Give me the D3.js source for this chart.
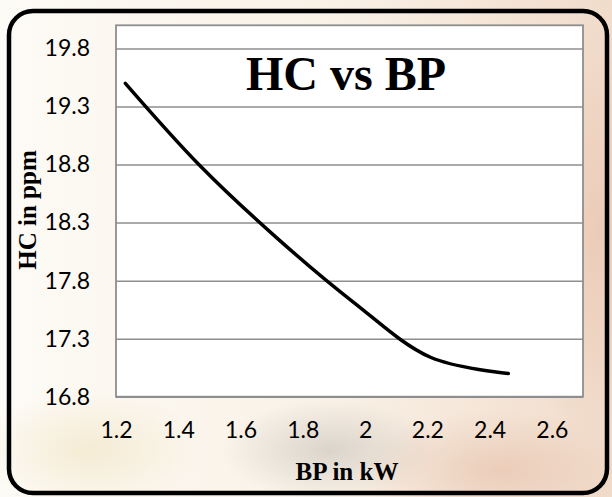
<!DOCTYPE html>
<html>
<head>
	<meta charset="utf-8">
	<script src="https://d3js.org/d3.v7.min.js"></script>
	<style>
		body { margin: 0; background: #fff; }
		svg { display: block; }
	</style>
</head>
<body>
	<svg width="612" height="497"></svg>
	<script>
		// data
		let bp = [1.23, 1.47, 1.72, 1.96, 2.21, 2.46];
		let hc = [19.50, 18.79, 18.16, 17.62, 17.14, 17.00];
		let xTicks = [1.2, 1.4, 1.6, 1.8, 2.0, 2.2, 2.4, 2.6];
		let yTicks = [16.8, 17.3, 17.8, 18.3, 18.8, 19.3, 19.8];

		let data = [];
		for (let i = 0; i < bp.length; i++) {
			data.push({ "bp": bp[i], "hc": hc[i] });
		}

		const svg = d3.select("svg");
		const W = 612, H = 497;
		const plot = { left: 116, right: 583, top: 25.3, bottom: 396.7 };

		// faded background picture (approximation)
		const defs = svg.append("defs");
		const lg = defs.append("linearGradient").attr("id", "bgLin")
			.attr("x1", 0).attr("y1", 0).attr("x2", 1).attr("y2", 0);
		lg.append("stop").attr("offset", "0%").attr("stop-color", "#fdfbf6");
		lg.append("stop").attr("offset", "55%").attr("stop-color", "#f9f1e6");
		lg.append("stop").attr("offset", "100%").attr("stop-color", "#f1dccb");
		const rg = defs.append("radialGradient").attr("id", "peach");
		rg.append("stop").attr("offset", "0%").attr("stop-color", "#e9c7b2").attr("stop-opacity", 0.8);
		rg.append("stop").attr("offset", "100%").attr("stop-color", "#e9c7b2").attr("stop-opacity", 0);
		const rg2 = defs.append("radialGradient").attr("id", "greyb");
		rg2.append("stop").attr("offset", "0%").attr("stop-color", "#cfc8c0").attr("stop-opacity", 0.7);
		rg2.append("stop").attr("offset", "100%").attr("stop-color", "#cfc8c0").attr("stop-opacity", 0);
		const rg3 = defs.append("radialGradient").attr("id", "cream");
		rg3.append("stop").attr("offset", "0%").attr("stop-color", "#f4ead0").attr("stop-opacity", 0.9);
		rg3.append("stop").attr("offset", "100%").attr("stop-color", "#f4ead0").attr("stop-opacity", 0);

		svg.append("rect").attr("width", W).attr("height", H).attr("fill", "url(#bgLin)");
		svg.append("ellipse").attr("cx", 600).attr("cy", 230).attr("rx", 90).attr("ry", 220).attr("fill", "url(#peach)");
		svg.append("ellipse").attr("cx", 500).attr("cy", 470).attr("rx", 140).attr("ry", 60).attr("fill", "url(#peach)");
		svg.append("ellipse").attr("cx", 330).attr("cy", 450).attr("rx", 110).attr("ry", 50).attr("fill", "url(#greyb)");
		svg.append("ellipse").attr("cx", 90).attr("cy", 450).attr("rx", 110).attr("ry", 60).attr("fill", "url(#cream)");

		// rounded frame
		svg.append("rect")
			.attr("x", 9).attr("y", 11)
			.attr("width", 598).attr("height", 482)
			.attr("rx", 24).attr("ry", 24)
			.attr("fill", "none")
			.attr("stroke", "#000")
			.attr("stroke-width", 4.5);

		const x = d3.scaleLinear().domain([1.2, 2.7]).range([plot.left, plot.right]);
		const y = d3.scaleLinear().domain([16.8, 20.0]).range([plot.bottom, plot.top]);

		// plot area
		svg.append("rect")
			.attr("x", plot.left).attr("y", plot.top)
			.attr("width", plot.right - plot.left).attr("height", plot.bottom - plot.top)
			.attr("fill", "#fff");

		// gridlines + y labels
		const yAxis = svg.append("g")
			.attr("transform", `translate(${plot.left},0)`)
			.call(d3.axisLeft(y).tickValues(yTicks).tickSize(-(plot.right - plot.left)).tickPadding(26).tickFormat(d3.format(".1f")));
		yAxis.select(".domain").remove();
		yAxis.selectAll(".tick line").attr("stroke", "#8e8e8e").attr("stroke-width", 1.5);
		yAxis.selectAll(".tick text")
			.attr("fill", "#000")
			.style("font-family", "Lato, 'Open Sans', sans-serif")
			.style("font-size", "23px");

		// x labels
		const xAxis = svg.append("g")
			.attr("transform", `translate(0,${plot.bottom})`)
			.call(d3.axisBottom(x).tickValues(xTicks).tickSize(0).tickPadding(25)
				.tickFormat(d => d3.format("")(+d.toFixed(1))));
		xAxis.select(".domain").remove();
		xAxis.selectAll(".tick text")
			.attr("fill", "#000")
			.style("font-family", "Lato, 'Open Sans', sans-serif")
			.style("font-size", "23px");

		// plot border
		svg.append("rect")
			.attr("x", plot.left).attr("y", plot.top)
			.attr("width", plot.right - plot.left).attr("height", plot.bottom - plot.top)
			.attr("fill", "none")
			.attr("stroke", "#8e8e8e")
			.attr("stroke-width", 1.8);

		// the curve
		svg.append("path")
			.datum(data)
			.attr("fill", "none")
			.attr("stroke", "#000")
			.attr("stroke-width", 3.5)
			.attr("stroke-linecap", "round")
			.attr("d", d3.line()
				.x(d => x(d.bp))
				.y(d => y(d.hc))
				.curve(d3.curveCatmullRom.alpha(0.5)));

		// title and axis titles
		svg.append("text")
			.attr("x", 346).attr("y", 90)
			.attr("text-anchor", "middle")
			.style("font-family", "'Liberation Serif', 'Times New Roman', serif")
			.style("font-weight", "bold")
			.style("font-size", "48px")
			.text("HC vs BP");

		svg.append("text")
			.attr("x", 347).attr("y", 480)
			.attr("text-anchor", "middle")
			.style("font-family", "'Liberation Serif', 'Times New Roman', serif")
			.style("font-weight", "bold")
			.style("font-size", "25px")
			.text("BP in kW");

		svg.append("text")
			.attr("transform", "translate(36,210) rotate(-90)")
			.attr("text-anchor", "middle")
			.style("font-family", "'Liberation Serif', 'Times New Roman', serif")
			.style("font-weight", "bold")
			.style("font-size", "25px")
			.text("HC in ppm");
	</script>
</body>
</html>
